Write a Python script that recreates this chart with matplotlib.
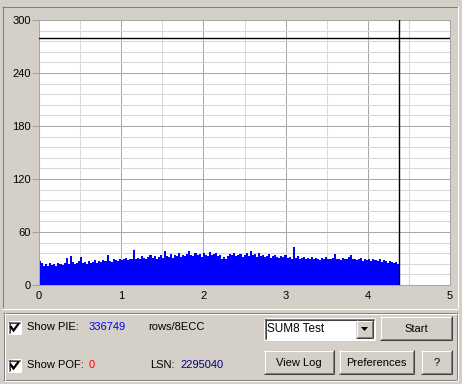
import numpy as np
import matplotlib.pyplot as plt
from matplotlib.patches import Rectangle, Polygon

W, H = 462, 384
BG = '#D4D0C8'

# PIE (sum8) along the disc
disc_end = 4.38
pi_limit = 280
pie_values = [
    27, 25, 22, 24, 21, 25, 23, 24, 22, 25, 24,
    23, 25, 31, 24, 33, 26, 24, 25, 27, 32, 25,
    26, 24, 27, 25, 26, 28, 25, 27, 26, 28, 27,
    34, 27, 26, 29, 28, 27, 30, 28, 29, 31, 28,
    30, 29, 40, 30, 31, 29, 33, 31, 30, 32, 34,
    31, 33, 30, 32, 34, 31, 38, 33, 32, 35, 31,
    34, 33, 36, 32, 34, 33, 35, 38, 34, 33, 36,
    34, 35, 32, 36, 34, 33, 37, 34, 35, 36, 33,
    34, 30, 32, 29, 33, 35, 34, 36, 33, 34, 35,
    32, 34, 36, 33, 39, 34, 35, 32, 36, 33, 34,
    32, 33, 35, 31, 33, 34, 32, 31, 33, 32, 34,
    31, 32, 30, 43, 31, 33, 30, 31, 32, 29, 31,
    30, 32, 29, 31, 30, 28, 31, 29, 32, 30, 29,
    31, 35, 29, 30, 28, 31, 29, 30, 32, 34, 29,
    30, 28, 29, 31, 27, 30, 28, 29, 27, 30, 28,
    27, 29, 26, 28, 27, 25, 27, 26, 25, 26, 24,
]

x_ticks = [0, 1, 2, 3, 4, 5]
y_ticks = [0, 60, 120, 180, 240, 300]

pie_total = '336749'
pof_total = '0'
lsn = '2295040'
test_name = 'SUM8 Test'

plt.rcParams['font.family'] = ['Liberation Sans', 'DejaVu Sans']
PX = 0.75  # one pixel line

fig = plt.figure(figsize=(W / 100, H / 100), dpi=100)
fig.patch.set_facecolor(BG)

# overlay in pixel coordinates for the dialog controls
ui = fig.add_axes([0, 0, 1, 1])
ui.set_xlim(0, W)
ui.set_ylim(H, 0)
ui.axis('off')


def hline(x0, x1, y, color):
    ui.plot([x0, x1], [y, y], color=color, lw=PX, solid_capstyle='butt')


def vline(x, y0, y1, color):
    ui.plot([x, x], [y0, y1], color=color, lw=PX, solid_capstyle='butt')


def raised(x0, y0, x1, y1):
    ui.add_patch(Rectangle((x0, y0), x1 - x0, y1 - y0, facecolor=BG, edgecolor='none'))
    hline(x0, x1, y0 + 0.5, 'white')
    vline(x0 + 0.5, y0, y1, 'white')
    hline(x0, x1, y1 - 0.5, '#404040')
    vline(x1 - 0.5, y0, y1, '#404040')
    hline(x0 + 1, x1 - 1, y1 - 1.5, '#808080')
    vline(x1 - 1.5, y0 + 1, y1 - 1, '#808080')


def sunken(x0, y0, x1, y1, face='white'):
    ui.add_patch(Rectangle((x0, y0), x1 - x0, y1 - y0, facecolor=face, edgecolor='none'))
    hline(x0, x1, y0 + 0.5, '#808080')
    vline(x0 + 0.5, y0, y1, '#808080')
    hline(x0 + 1, x1 - 1, y0 + 1.5, '#404040')
    vline(x0 + 1.5, y0 + 1, y1 - 1, '#404040')
    hline(x0, x1, y1 - 0.5, 'white')
    vline(x1 - 0.5, y0, y1, 'white')


def button(x0, y0, x1, y1, label):
    raised(x0, y0, x1, y1)
    ui.text((x0 + x1) / 2, (y0 + y1) / 2 + 0.5, label, ha='center', va='center', fontsize=8)


def checkbox(x, y):
    sunken(x, y, x + 13, y + 13)
    ui.plot([x + 3, x + 5.5, x + 10], [y + 6, y + 9.5, y + 3.5], color='black', lw=1.6,
            solid_joinstyle='miter')


# chart panel frame
hline(2, 458, 6.5, '#808080')
vline(2.5, 6, 308, '#808080')
hline(2, 458, 308.5, 'white')
vline(457.5, 6, 308, 'white')

# group box (etched)
for off, col in [(0, '#808080'), (1, 'white')]:
    hline(3 + off, 456 + off, 312.5 + off, col)
    hline(3 + off, 456 + off, 379.5 + off, col)
    vline(3.5 + off, 312 + off, 380 + off, col)
    vline(456.5 + off, 312 + off, 380 + off, col)

# chart
ax = fig.add_axes([39 / W, 1 - 285 / H, (450 - 39) / W, (285 - 20) / H])
ax.set_facecolor('white')
edges = np.linspace(0, disc_end, len(pie_values) + 1)
ax.stairs(pie_values, edges, fill=True, color='#0000FF', zorder=2)
ax.axhline(pi_limit, color='black', lw=1.0, zorder=3)
ax.axvline(disc_end, color='black', lw=1.0, zorder=3)

ax.set_xlim(0, 5)
ax.set_ylim(0, 300)
ax.set_xticks(x_ticks)
ax.set_yticks(y_ticks)
ax.set_xticks(np.arange(0, 5.01, 0.5), minor=True)
ax.set_yticks(np.arange(0, 301, 12), minor=True)
ax.set_axisbelow(True)
ax.grid(which='minor', color='#D8D8D8', lw=PX)
ax.grid(which='major', color='#A8A8A8', lw=PX)
ax.tick_params(which='minor', length=0)
ax.tick_params(axis='y', which='major', length=5, width=PX, color='#A0A0A0', pad=1, labelsize=8)
ax.tick_params(axis='x', which='major', length=0, pad=4, labelsize=8)
for s in ax.spines.values():
    s.set_color('#A8A8A8')
    s.set_linewidth(PX)

# controls
checkbox(8, 321)
ui.text(27, 327.5, 'Show PIE:', va='center', fontsize=8)
ui.text(89, 327.5, pie_total, va='center', fontsize=8, color='#0000FF')
ui.text(148, 327.5, 'rows/8ECC', va='center', fontsize=8)

checkbox(8, 359)
ui.text(27, 365.5, 'Show POF:', va='center', fontsize=8)
ui.text(89, 365.5, pof_total, va='center', fontsize=8, color='#FF0000')
ui.text(150, 365.5, 'LSN:', va='center', fontsize=8)
ui.text(180, 365.5, lsn, va='center', fontsize=8, color='#000080')

# combo box
sunken(264, 318, 375, 340)
ui.text(267, 329.5, test_name, va='center', fontsize=8.5)
raised(356, 320, 373, 338)
ui.add_patch(Polygon([[361, 327], [368, 327], [364.5, 331]], closed=True,
                     facecolor='black', edgecolor='none'))

button(380, 316, 452, 340, 'Start')
button(264, 350, 334, 374, 'View Log')
button(339, 350, 414, 374, 'Preferences')
button(421, 350, 452, 374, '?')

fig.savefig('out.png', dpi=100, facecolor=BG)
